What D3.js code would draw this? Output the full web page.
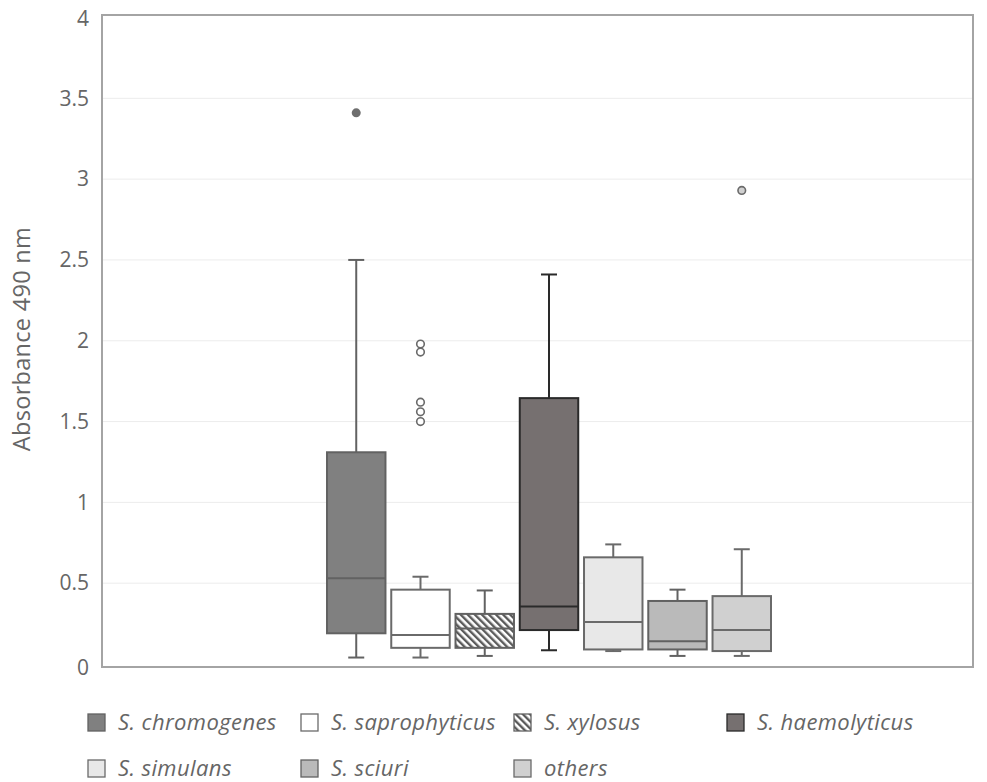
<!DOCTYPE html>
<html>
<head>
<meta charset="utf-8">
<script src="https://cdn.jsdelivr.net/npm/d3@7"></script>
<style>
  body { margin: 0; background: #fff; }
  svg text { font-family: "Open Sans", "Noto Sans", sans-serif; fill: #666; }
</style>
</head>
<body>
<div id="chart"></div>
<script>
// species (one box each)
var species = ['S. chromogenes', 'S. saprophyticus', 'S. xylosus', 'S. haemolyticus', 'S. simulans', 'S. sciuri', 'others'];
// box statistics
var whiskerLow  = [0.04, 0.04, 0.05, 0.085, 0.08, 0.05, 0.05];
var q1Values    = [0.19, 0.10, 0.10, 0.21, 0.09, 0.09, 0.08];
var medians     = [0.53, 0.18, 0.22, 0.355, 0.26, 0.14, 0.21];
var q3Values    = [1.31, 0.46, 0.31, 1.645, 0.66, 0.39, 0.42];
var whiskerHigh = [2.50, 0.54, 0.455, 2.41, 0.74, 0.46, 0.71];
var outliers    = [[3.41], [1.50, 1.56, 1.62, 1.93, 1.98], [], [], [], [], [2.93]];
var yTicks = [0, 0.5, 1, 1.5, 2, 2.5, 3, 3.5, 4];

// styles
var fills   = ['#808080', '#ffffff', 'url(#hatch)', '#767070', '#e8e8e8', '#bababa', '#d0d0d0'];
var dotFill = ['#6e6e6e', '#ffffff', '#ffffff', '#767070', '#e8e8e8', '#bababa', '#d0d0d0'];
var strokes = ['#626262', '#6a6a6a', '#626262', '#2a2a2a', '#6a6a6a', '#626262', '#6a6a6a'];

var width = 987, height = 782;
var plot = { left: 102, top: 15, right: 973, bottom: 667 };

var svg = d3.select('#chart').append('svg')
    .attr('width', width)
    .attr('height', height);

// hatch for S. xylosus
var pat = svg.append('defs').append('pattern')
    .attr('id', 'hatch')
    .attr('patternUnits', 'userSpaceOnUse')
    .attr('width', 5).attr('height', 5)
    .attr('patternTransform', 'rotate(-45)');
pat.append('rect').attr('width', 5).attr('height', 5).attr('fill', '#fff');
pat.append('rect').attr('width', 2.4).attr('height', 5).attr('fill', '#5a5a5a');

var yScale = d3.scaleLinear().domain([0, 4]).range([664, 17.5]);
var xScale = d3.scaleBand().domain(species).range([327, 771]).paddingInner(0.09);

// grid
svg.append('g')
    .selectAll('line')
    .data(yTicks.slice(1, -1))
    .enter()
    .append('line')
    .attr('x1', plot.left).attr('x2', plot.right)
    .attr('y1', d => yScale(d)).attr('y2', d => yScale(d))
    .attr('stroke', '#ececec')
    .attr('stroke-width', 1);

// frame
svg.append('rect')
    .attr('x', plot.left).attr('y', plot.top)
    .attr('width', plot.right - plot.left)
    .attr('height', plot.bottom - plot.top)
    .attr('fill', 'none')
    .attr('stroke', '#a4a4a4')
    .attr('stroke-width', 2);

// y axis ticks
var yAxis = svg.append('g')
    .attr('transform', 'translate(' + (plot.left - 13) + ',0)')
    .call(d3.axisLeft(yScale).tickValues(yTicks).tickSize(0).tickPadding(0).tickFormat(d3.format('')));
yAxis.select('.domain').remove();
yAxis.selectAll('text')
    .attr('font-size', 21)
    .attr('dy', (d) => d == 0 ? '0.5em' : d == 4 ? '0.4em' : '0.32em')
    .style('fill', '#666');

svg.append('text')
    .attr('transform', 'translate(30,' + 339 + ') rotate(-90)')
    .attr('text-anchor', 'middle')
    .attr('font-size', 23.5)
    .attr('letter-spacing', 0.3)
    .text('Absorbance 490 nm');

// boxes
var boxes = svg.append('g')
    .selectAll('g')
    .data(species)
    .enter()
    .append('g');

var bw = xScale.bandwidth();
var cap = 16;

// whiskers
boxes.append('line')
    .attr('x1', d => xScale(d) + bw / 2).attr('x2', d => xScale(d) + bw / 2)
    .attr('y1', (d, i) => yScale(q3Values[i])).attr('y2', (d, i) => yScale(whiskerHigh[i]))
    .attr('stroke', (d, i) => strokes[i]).attr('stroke-width', 2);
boxes.append('line')
    .attr('x1', d => xScale(d) + bw / 2).attr('x2', d => xScale(d) + bw / 2)
    .attr('y1', (d, i) => yScale(q1Values[i])).attr('y2', (d, i) => yScale(whiskerLow[i]))
    .attr('stroke', (d, i) => strokes[i]).attr('stroke-width', 2);
boxes.append('line')
    .attr('x1', d => xScale(d) + bw / 2 - cap / 2).attr('x2', d => xScale(d) + bw / 2 + cap / 2)
    .attr('y1', (d, i) => yScale(whiskerHigh[i])).attr('y2', (d, i) => yScale(whiskerHigh[i]))
    .attr('stroke', (d, i) => strokes[i]).attr('stroke-width', 2);
boxes.append('line')
    .attr('x1', d => xScale(d) + bw / 2 - cap / 2).attr('x2', d => xScale(d) + bw / 2 + cap / 2)
    .attr('y1', (d, i) => yScale(whiskerLow[i])).attr('y2', (d, i) => yScale(whiskerLow[i]))
    .attr('stroke', (d, i) => strokes[i]).attr('stroke-width', 2);

boxes.append('rect')
    .attr('x', d => xScale(d))
    .attr('y', (d, i) => yScale(q3Values[i]))
    .attr('width', bw)
    .attr('height', (d, i) => yScale(q1Values[i]) - yScale(q3Values[i]))
    .attr('fill', (d, i) => fills[i])
    .attr('stroke', (d, i) => strokes[i])
    .attr('stroke-width', 2);

boxes.append('line')
    .attr('x1', d => xScale(d)).attr('x2', d => xScale(d) + bw)
    .attr('y1', (d, i) => yScale(medians[i])).attr('y2', (d, i) => yScale(medians[i]))
    .attr('stroke', (d, i) => strokes[i]).attr('stroke-width', 2);

// outliers
boxes.each(function (d, i) {
    d3.select(this).selectAll('circle')
        .data(outliers[i])
        .enter()
        .append('circle')
        .attr('cx', xScale(d) + bw / 2)
        .attr('cy', v => yScale(v))
        .attr('r', i == 0 ? 4.5 : 3.8)
        .attr('fill', i == 0 ? '#6e6e6e' : dotFill[i])
        .attr('stroke', '#6a6a6a')
        .attr('stroke-width', i == 0 ? 0 : 1.6);
});

// legend
var legend = svg.append('g')
    .selectAll('g')
    .data(species)
    .enter()
    .append('g')
    .attr('transform', (d, i) => 'translate(' + (87 + 213 * (i % 4)) + ',' + (713 + 46 * Math.floor(i / 4)) + ')');

legend.append('rect')
    .attr('x', 1).attr('y', 1)
    .attr('width', 17).attr('height', 17)
    .attr('fill', (d, i) => fills[i])
    .attr('stroke', (d, i) => strokes[i])
    .attr('stroke-width', 1.3);

legend.append('text')
    .attr('x', 31)
    .attr('y', 9.5)
    .attr('dy', '0.35em')
    .attr('font-size', 22)
    .attr('letter-spacing', 0.4)
    .attr('font-style', 'italic')
    .text(d => d);
</script>
</body>
</html>
